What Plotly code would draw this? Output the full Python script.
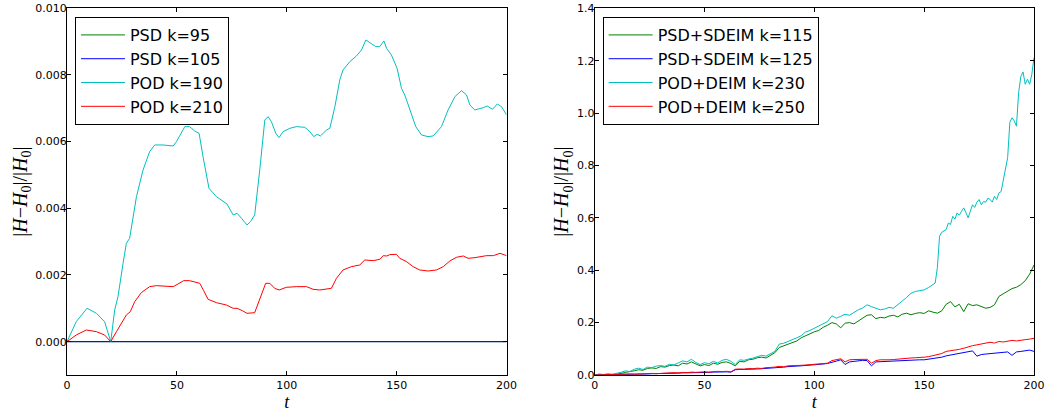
import plotly.graph_objects as go

# ---------------- Left panel data (PSD / POD) ----------------
L_T_ZERO = [0, 50, 100, 150, 200]
L_PSD95 = [0.0, 0.0, 0.0, 0.0, 0.0]
L_PSD105 = [0.0, 0.0, 0.0, 0.0, 0.0]

L_T_POD190 = [0, 4.2, 9.1, 13.4, 17.1, 19.9, 21.7, 23.2, 25.5, 27, 28.5,
              31.6, 34.6, 37.6, 39.9, 43.7, 48.3, 49.8, 53.6, 55.8, 58.1,
              60.1, 61.9, 64.6, 68, 71, 72.8, 75.6, 77.4, 79.4, 81.9,
              83.5, 85.4, 87.7, 90, 91.5, 93, 95, 96.5, 98.3, 101.4,
              104.4, 108.2, 110.5, 112.3, 113.8, 115.3, 118.1, 119.6, 121.9, 124.1,
              125.6, 128.7, 131.7, 134, 136, 137.8, 140.5, 142.3, 144.2, 145.4,
              147.6, 150.2, 152.2, 153.7, 156, 158.7, 161.3, 164.3, 166.6, 170.4,
              173.4, 176.5, 179.5, 181.8, 183.3, 185.6, 189.4, 191.2, 193.6, 195.8,
              197.7, 200]
L_POD190 = [0.0, 0.60, 1.00, 0.85, 0.60, 0.0, 0.95, 1.35, 2.35, 2.95, 3.10,
            4.35, 5.15, 5.70, 5.90, 5.90, 5.87, 6.00, 6.45, 6.45, 6.32,
            6.25, 5.55, 4.60, 4.35, 4.20, 4.13, 3.80, 3.85, 3.70, 3.50,
            3.60, 3.80, 5.15, 6.65, 6.75, 6.60, 6.25, 6.12, 6.30, 6.40,
            6.45, 6.43, 6.30, 6.15, 6.22, 6.17, 6.35, 6.40, 7.05, 7.85,
            8.15, 8.40, 8.57, 8.75, 9.05, 8.97, 8.85, 8.85, 9.02, 8.80,
            8.60, 8.20, 7.60, 7.40, 6.95, 6.45, 6.20, 6.15, 6.17, 6.45,
            6.95, 7.35, 7.53, 7.40, 7.10, 6.95, 7.02, 7.07, 6.97, 7.13,
            7.05, 6.80]  # in units of 1e-3

L_T_POD210 = [0, 4.2, 8.8, 13.4, 17.1, 19.9, 22.5, 27, 28.8, 30.8,
              33.8, 37.6, 40.7, 45.2, 48.3, 50.5, 53.1, 55.8, 58.9, 60.4,
              62.2, 64.2, 68, 72.5, 75.6, 77.4, 79.8, 81.9, 85.4, 87.7,
              90.4, 92.3, 94.5, 96.5, 99.8, 104.4, 109, 112, 115, 120.3,
              122.6, 125.6, 129.4, 133.2, 135.5, 139.3, 142.3, 143.9, 145.4, 146.9,
              149.9, 151.4, 154.5, 157.5, 160.5, 164.3, 168.1, 171.2, 174.2, 177.2,
              180.3, 182.5, 185.6, 190.9, 194, 197, 200]
L_POD210 = [0.0, 0.20, 0.35, 0.30, 0.20, 0.0, 0.30, 0.80, 0.90, 1.20,
            1.47, 1.65, 1.68, 1.67, 1.65, 1.73, 1.83, 1.83, 1.77, 1.75,
            1.53, 1.27, 1.17, 1.10, 1.00, 1.00, 0.93, 0.85, 0.87, 1.30,
            1.75, 1.75, 1.60, 1.55, 1.63, 1.65, 1.65, 1.57, 1.55, 1.60,
            1.90, 2.15, 2.25, 2.30, 2.45, 2.43, 2.47, 2.58, 2.57, 2.61,
            2.62, 2.50, 2.40, 2.25, 2.15, 2.12, 2.15, 2.25, 2.42, 2.53,
            2.57, 2.50, 2.52, 2.58, 2.58, 2.65, 2.58]  # in units of 1e-3

# ---------------- Right panel data (with hyper-reduction) ----------------
R_T = list(range(0, 201, 2))
R_PSD115 = [0.000, 0.001, 0.000, 0.002, 0.001, 0.003, 0.006, 0.010, 0.012, 0.016,
            0.020, 0.018, 0.025, 0.027, 0.025, 0.032, 0.030, 0.036, 0.038, 0.035,
            0.045, 0.042, 0.050, 0.044, 0.035, 0.040, 0.036, 0.045, 0.041, 0.048,
            0.050, 0.044, 0.035, 0.052, 0.050, 0.058, 0.060, 0.066, 0.068, 0.065,
            0.075, 0.085, 0.105, 0.112, 0.118, 0.125, 0.130, 0.142, 0.150, 0.158,
            0.165, 0.170, 0.182, 0.190, 0.200, 0.195, 0.180, 0.198, 0.200, 0.195,
            0.205, 0.215, 0.228, 0.230, 0.215, 0.220, 0.218, 0.225, 0.228, 0.222,
            0.232, 0.236, 0.230, 0.235, 0.238, 0.235, 0.245, 0.240, 0.236, 0.245,
            0.270, 0.280, 0.260, 0.270, 0.242, 0.272, 0.265, 0.268, 0.260, 0.255,
            0.258, 0.268, 0.300, 0.310, 0.318, 0.330, 0.335, 0.345, 0.360, 0.385,
            0.420]
R_PSD125 = [0.000, 0.001, 0.001, 0.001, 0.002, 0.002, 0.002, 0.002, 0.003, 0.003,
            0.003, 0.004, 0.004, 0.005, 0.005, 0.005, 0.006, 0.006, 0.007, 0.007,
            0.008, 0.008, 0.009, 0.009, 0.010, 0.010, 0.010, 0.011, 0.012, 0.012,
            0.012, 0.011, 0.020, 0.021, 0.021, 0.022, 0.022, 0.023, 0.024, 0.025,
            0.025, 0.027, 0.028, 0.030, 0.032, 0.032, 0.034, 0.035, 0.036, 0.037,
            0.038, 0.040, 0.042, 0.044, 0.050, 0.053, 0.058, 0.040, 0.050, 0.052,
            0.055, 0.056, 0.055, 0.035, 0.050, 0.051, 0.052, 0.053, 0.053, 0.054,
            0.055, 0.056, 0.056, 0.057, 0.058, 0.058, 0.060, 0.063, 0.065, 0.068,
            0.073, 0.076, 0.080, 0.082, 0.085, 0.088, 0.092, 0.072, 0.078, 0.080,
            0.082, 0.084, 0.085, 0.086, 0.088, 0.075, 0.088, 0.090, 0.093, 0.095,
            0.090]
R_POD250 = [0.000, 0.001, 0.002, 0.001, 0.002, 0.002, 0.003, 0.002, 0.004, 0.003,
            0.004, 0.005, 0.004, 0.006, 0.005, 0.006, 0.008, 0.007, 0.009, 0.008,
            0.010, 0.009, 0.011, 0.010, 0.012, 0.012, 0.011, 0.013, 0.014, 0.013,
            0.014, 0.012, 0.022, 0.023, 0.022, 0.025, 0.024, 0.026, 0.025, 0.028,
            0.028, 0.030, 0.033, 0.031, 0.035, 0.035, 0.036, 0.037, 0.038, 0.039,
            0.040, 0.041, 0.043, 0.045, 0.055, 0.058, 0.062, 0.050, 0.058, 0.059,
            0.060, 0.061, 0.060, 0.045, 0.055, 0.058, 0.057, 0.058, 0.059, 0.061,
            0.062, 0.063, 0.065, 0.066, 0.066, 0.068, 0.070, 0.074, 0.078, 0.082,
            0.090, 0.092, 0.096, 0.098, 0.102, 0.108, 0.112, 0.115, 0.118, 0.122,
            0.125, 0.122, 0.128, 0.126, 0.130, 0.132, 0.130, 0.134, 0.135, 0.137,
            0.140]
R_T_POD230 = list(range(0, 155, 2)) + list(range(155, 201))
R_POD230 = [0.000, 0.004, 0.002, 0.005, 0.003, 0.006, 0.010, 0.016, 0.013, 0.022,
            0.026, 0.021, 0.030, 0.028, 0.034, 0.036, 0.033, 0.041, 0.038, 0.046,
            0.054, 0.050, 0.060, 0.048, 0.040, 0.047, 0.043, 0.052, 0.046, 0.056,
            0.060, 0.052, 0.040, 0.058, 0.056, 0.061, 0.064, 0.070, 0.075, 0.072,
            0.080, 0.090, 0.118, 0.121, 0.128, 0.134, 0.142, 0.150, 0.164, 0.170,
            0.179, 0.186, 0.196, 0.204, 0.226, 0.217, 0.224, 0.232, 0.228, 0.240,
            0.249, 0.256, 0.268, 0.261, 0.254, 0.249, 0.252, 0.258, 0.255, 0.268,
            0.281, 0.296, 0.312, 0.319, 0.322, 0.325, 0.334, 0.344,
            0.351, 0.410, 0.530, 0.545, 0.550, 0.555, 0.580, 0.575, 0.606, 0.595,
            0.619, 0.610, 0.625, 0.638, 0.620, 0.600, 0.625, 0.650, 0.640, 0.660,
            0.670, 0.650, 0.662, 0.660, 0.675, 0.670, 0.660, 0.682, 0.670, 0.695,
            0.700, 0.745, 0.780, 0.830, 0.965, 0.982, 0.970, 0.950, 1.078, 1.140,
            1.157, 1.110, 1.129, 1.110, 1.148, 1.212]

X_TICKS = [0, 50, 100, 150, 200]
L_Y_TICKS = [0.000, 0.002, 0.004, 0.006, 0.008, 0.010]
R_Y_TICKS = [0.0, 0.2, 0.4, 0.6, 0.8, 1.0, 1.2, 1.4]

GREEN, BLUE, CYAN, RED = "#008000", "#0000ff", "#00bfbf", "#ff0000"

fig = go.Figure()


def add(x, y, name, color, xa, ya, legend):
    fig.add_trace(go.Scatter(x=x, y=y, mode="lines", name=name,
                             line=dict(color=color, width=1),
                             xaxis=xa, yaxis=ya, legend=legend))


add(L_T_ZERO, L_PSD95, "PSD k=95", GREEN, "x", "y", "legend")
add(L_T_ZERO, L_PSD105, "PSD k=105", BLUE, "x", "y", "legend")
add(L_T_POD190, [v * 1e-3 for v in L_POD190], "POD k=190", CYAN, "x", "y", "legend")
add(L_T_POD210, [v * 1e-3 for v in L_POD210], "POD k=210", RED, "x", "y", "legend")

add(R_T, R_PSD115, "PSD+SDEIM k=115", GREEN, "x2", "y2", "legend2")
add(R_T, R_PSD125, "PSD+SDEIM k=125", BLUE, "x2", "y2", "legend2")
add(R_T_POD230, R_POD230, "POD+DEIM k=230", CYAN, "x2", "y2", "legend2")
add(R_T, R_POD250, "POD+DEIM k=250", RED, "x2", "y2", "legend2")

TICKFONT = dict(family="DejaVu Sans", size=11, color="black")
YLABEL = "|<i>H</i>−<i>H</i><sub>0</sub>|/|<i>H</i><sub>0</sub>|"
LABELFONT = dict(family="Liberation Serif", size=20, color="black")

axis_common = dict(showline=True, linecolor="black", linewidth=1, mirror="allticks",
                   ticks="inside", ticklen=4, tickwidth=1, tickcolor="black",
                   showgrid=False, zeroline=False, tickfont=TICKFONT, automargin=False)

fig.update_layout(
    width=1047, height=415,
    margin=dict(l=0, r=0, t=0, b=0),
    paper_bgcolor="white", plot_bgcolor="white",
    template="none",
    font=dict(family="DejaVu Sans", color="black"),
    xaxis=dict(domain=[0.0640, 0.4838], range=[0, 200], tickvals=X_TICKS,
               title=dict(text="<i>t</i>", font=dict(family="Liberation Serif", size=18), standoff=4),
               anchor="y", **axis_common),
    yaxis=dict(domain=[0.0964, 0.980], range=[-0.001, 0.010], tickvals=L_Y_TICKS,
               tickformat=".3f", ticklabelstandoff=-3,
               title=dict(text=YLABEL, font=LABELFONT, standoff=2),
               anchor="x", **axis_common),
    xaxis2=dict(domain=[0.5680, 0.9876], range=[0, 200], tickvals=X_TICKS,
                title=dict(text="<i>t</i>", font=dict(family="Liberation Serif", size=18), standoff=4),
                anchor="y2", **axis_common),
    yaxis2=dict(domain=[0.0964, 0.980], range=[0, 1.4], tickvals=R_Y_TICKS,
                tickformat=".1f", ticklabelstandoff=-3,
                title=dict(text=YLABEL, font=LABELFONT, standoff=2),
                anchor="x2", **axis_common),
    legend=dict(x=0.0716, y=0.959, xanchor="left", yanchor="top",
                bgcolor="white", bordercolor="black", borderwidth=1,
                font=dict(family="DejaVu Sans", size=16, color="black"),
                itemwidth=44),
    legend2=dict(x=0.5756, y=0.959, xanchor="left", yanchor="top",
                 bgcolor="white", bordercolor="black", borderwidth=1,
                 font=dict(family="DejaVu Sans", size=16, color="black"),
                 itemwidth=44),
    showlegend=True,
)

fig.write_html("out.html", config={"displayModeBar": False},
               post_script="document.body.style.margin='0';")
